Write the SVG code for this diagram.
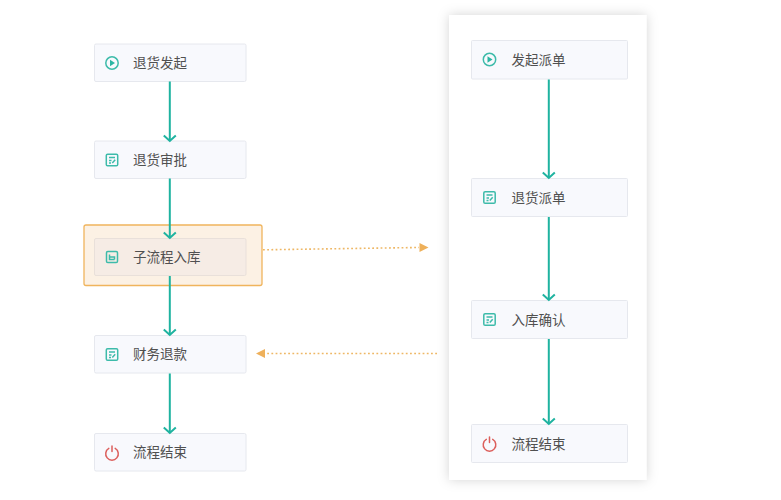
<svg xmlns="http://www.w3.org/2000/svg" width="781" height="500" viewBox="0 0 781 500">
<style>
.node{fill:#f8f9fd;stroke:#e6e8ee;stroke-width:1}
.lbl{font-family:"Noto Sans CJK SC","Noto Sans",sans-serif;font-size:13.5px;fill:#505050}
.flow{fill:none;stroke:#1fb3a0;stroke-width:2}
.head{fill:none;stroke:#1fb3a0;stroke-width:2}
.dot{fill:none;stroke:#eeb765;stroke-width:1.600;stroke-dasharray:1.800 2.400}
.ic{fill:none;stroke:#3dbbaa;stroke-width:1.500}
.ice{fill:none;stroke:#dc5f5c;stroke-width:1.500;stroke-linecap:round}
</style>
<defs>
<filter id="sh" x="-15%" y="-10%" width="130%" height="120%"><feDropShadow dx="0" dy="0" stdDeviation="6" flood-color="#000" flood-opacity="0.17"/></filter>
<marker id="a" markerUnits="userSpaceOnUse" markerWidth="16" markerHeight="10" refX="7" refY="8" viewBox="0 0 14 10"><path class="head" d="M1 2.500L7 8L13 2.500"/></marker>
<g id="iPlay"><circle class="ic" cx="0" cy="0" r="6.200"/><path d="M-2 -3.200L3 0L-2 3.200Z" fill="#2bb5a3"/></g>
<g id="iForm"><rect class="ic" x="-5.700" y="-5.700" width="11.400" height="11.400" rx="1.300"/><path class="ic" d="M-3 -2.500H3M-3 0.500H-0.500M-3 3H-1M3.200 -0.300L0.300 3"/></g>
<g id="iPower"><path class="ice" d="M-3.200 -4.600A6.300 6.300 0 1 0 3.200 -4.600M0 -7V-1.500"/></g>
</defs>
<rect width="781" height="500" fill="#ffffff"/>
<rect id="panel" x="449" y="15" width="197.500" height="465" fill="#ffffff" filter="url(#sh)"/>
<g id="n-sub-frame"><rect x="84" y="225" width="178" height="60.500" rx="2" fill="#fcf1e4" stroke="#f0b45c" stroke-width="1.300"/></g>
<g id="n1"><rect class="node" x="94.500" y="44" width="151.500" height="37.500" rx="1.500"/><use href="#iPlay" x="112" y="63"/><text class="lbl" x="133" y="67.500">退货发起</text></g>
<g id="n2"><rect class="node" x="94.500" y="141" width="151.500" height="37.500" rx="1.500"/><use href="#iForm" x="112" y="160"/><text class="lbl" x="133" y="164.500">退货审批</text></g>
<g id="n3"><rect x="94.500" y="238.500" width="151.500" height="37" rx="1.500" fill="#f6ece5" stroke="#e9e0da"/><rect class="ic" x="106.500" y="251.500" width="11" height="11" rx="1.300"/><path class="ic" d="M109.500 254.500V259.500H114.500M109.500 257H114.500V259.500"/><text class="lbl" x="133" y="261.500">子流程入库</text></g>
<g id="n4"><rect class="node" x="94.500" y="335.500" width="151.500" height="37.500" rx="1.500"/><use href="#iForm" x="112" y="354.500"/><text class="lbl" x="133" y="359">财务退款</text></g>
<g id="n5"><rect class="node" x="94.500" y="433.500" width="151.500" height="37.500" rx="1.500"/><use href="#iPower" x="112" y="453"/><text class="lbl" x="133" y="457">流程结束</text></g>
<g id="r1"><rect class="node" x="471.500" y="40.500" width="156" height="38.500" rx="1"/><use href="#iPlay" x="489.500" y="59.500"/><text class="lbl" x="511.500" y="64.500">发起派单</text></g>
<g id="r2"><rect class="node" x="471.500" y="178.500" width="156" height="38" rx="1"/><use href="#iForm" x="489.500" y="197.500"/><text class="lbl" x="511.500" y="202.500">退货派单</text></g>
<g id="r3"><rect class="node" x="471.500" y="300.500" width="156" height="38" rx="1"/><use href="#iForm" x="489.500" y="319.500"/><text class="lbl" x="511.500" y="324.500">入库确认</text></g>
<g id="r4"><rect class="node" x="471.500" y="424.500" width="156" height="38" rx="1"/><use href="#iPower" x="489.500" y="444"/><text class="lbl" x="511.500" y="448.500">流程结束</text></g>
<g id="connectors">
<path class="flow" marker-end="url(#a)" d="M169.800 81.500V141"/>
<path class="flow" marker-end="url(#a)" d="M169.800 178.500V238"/>
<path class="flow" marker-end="url(#a)" d="M169.800 276V335"/>
<path class="flow" marker-end="url(#a)" d="M169.800 373.500V433"/>
<path class="flow" marker-end="url(#a)" d="M548.800 79.500V178"/>
<path class="flow" marker-end="url(#a)" d="M548.800 217V300"/>
<path class="flow" marker-end="url(#a)" d="M548.800 339V424"/>
<path class="dot" d="M263 249.800L419 247.500"/>
<path d="M419.500 243L428.500 247.500L419.500 252Z" fill="#eeb05a"/>
<path class="dot" d="M437 353.500H265"/>
<path d="M265 349L256 353.500L265 358Z" fill="#eeb05a"/>
</g>
</svg>
